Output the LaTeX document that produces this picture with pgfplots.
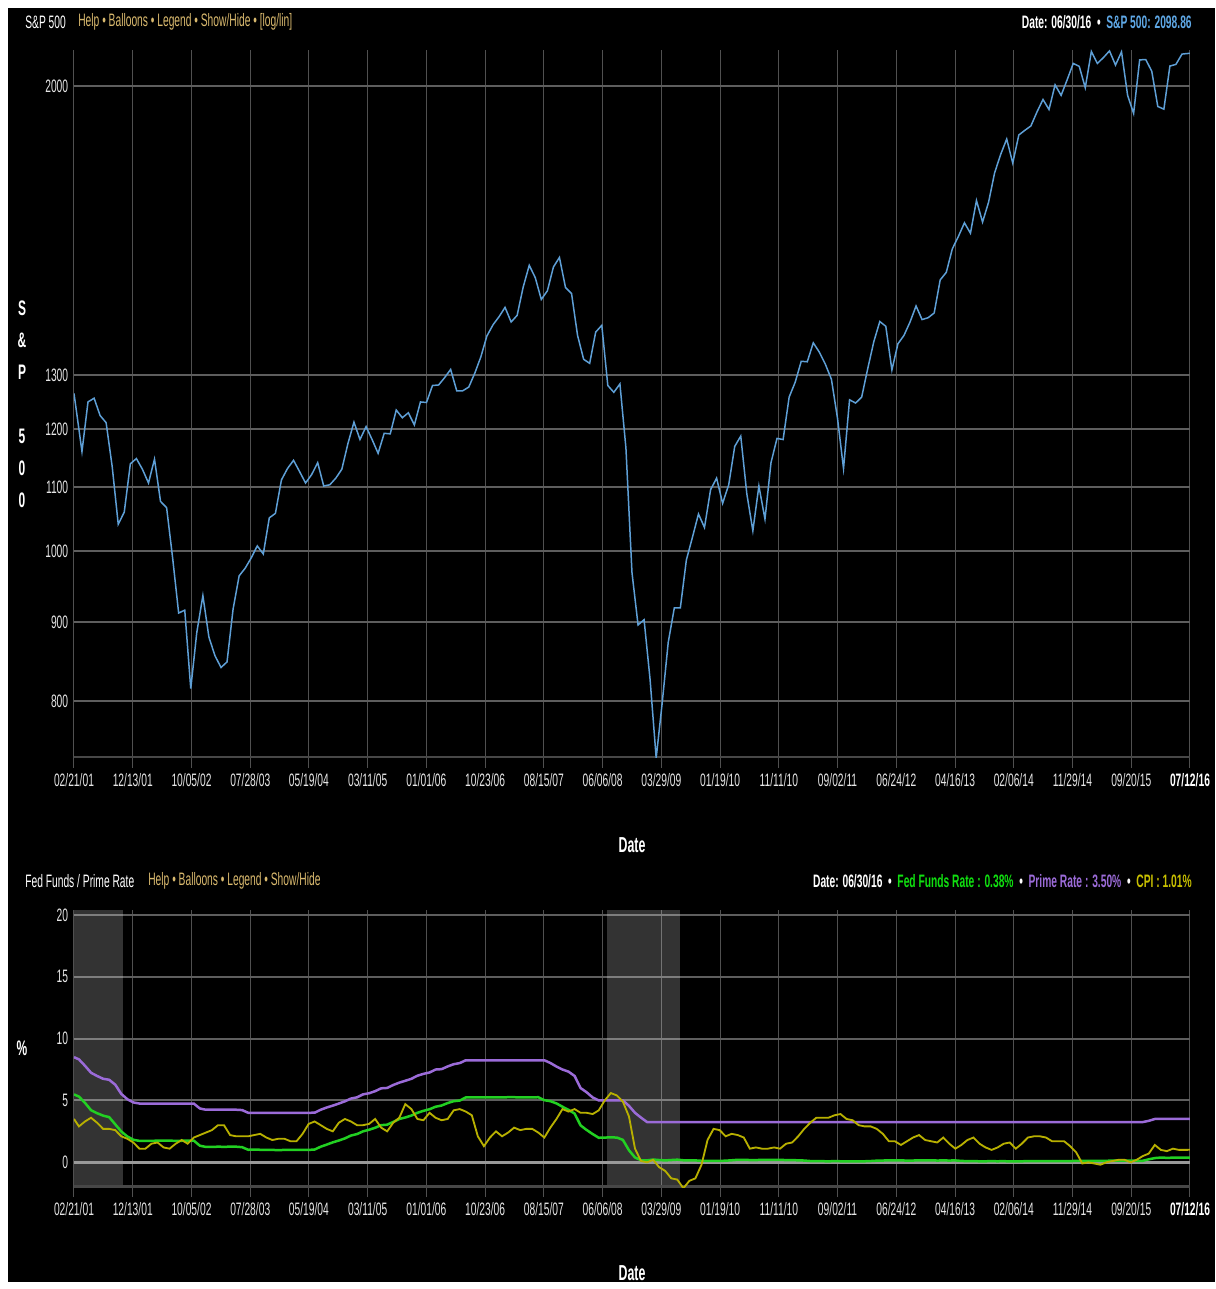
\documentclass[border=0pt]{standalone}
\usepackage{fontspec}
\setmainfont{Liberation Sans}[FakeStretch=0.57]
\usepackage{pgfplots}
\usepackage{pgfplotstable}
\pgfplotsset{compat=1.18}

\definecolor{hgrid}{HTML}{5E5E5E}
\definecolor{vgrid}{HTML}{505050}
\definecolor{basel}{HTML}{474747}
\definecolor{ticktxt}{HTML}{E6E6E6}
\definecolor{gold}{HTML}{D9B96E}
\definecolor{spblue}{HTML}{5E9FD6}
\definecolor{hdrblue}{HTML}{5FA8E6}
\definecolor{ffgreen}{HTML}{22D022}
\definecolor{hdrgreen}{HTML}{10E010}
\definecolor{prpurple}{HTML}{9B6BD8}
\definecolor{cpiyel}{HTML}{B8B000}
\definecolor{hdryel}{HTML}{C8C000}

\newcommand\ft{\fontsize{10.8}{13}\selectfont}

% S&P 500, month-end closes
\pgfplotstableread{
x sp
2001.140 1265
2001.250 1160
2001.333 1249
2001.417 1256
2001.500 1224
2001.583 1211
2001.667 1134
2001.750 1041
2001.833 1060
2001.917 1139
2002.000 1148
2002.083 1130
2002.167 1107
2002.250 1147
2002.333 1077
2002.417 1067
2002.500 990
2002.583 912
2002.667 916
2002.750 815
2002.833 886
2002.917 936
2003.000 880
2003.083 856
2003.167 841
2003.250 848
2003.333 917
2003.417 964
2003.500 975
2003.583 990
2003.667 1008
2003.750 996
2003.833 1051
2003.917 1058
2004.000 1112
2004.083 1131
2004.167 1145
2004.250 1126
2004.333 1107
2004.417 1121
2004.500 1141
2004.583 1102
2004.667 1104
2004.750 1115
2004.833 1130
2004.917 1174
2005.000 1212
2005.083 1181
2005.167 1204
2005.250 1181
2005.333 1157
2005.417 1192
2005.500 1191
2005.583 1234
2005.667 1220
2005.750 1229
2005.833 1207
2005.917 1249
2006.000 1248
2006.083 1280
2006.167 1281
2006.250 1295
2006.333 1311
2006.417 1270
2006.500 1270
2006.583 1277
2006.667 1304
2006.750 1336
2006.833 1378
2006.917 1401
2007.000 1418
2007.083 1438
2007.167 1407
2007.250 1421
2007.333 1482
2007.417 1531
2007.500 1503
2007.583 1455
2007.667 1474
2007.750 1527
2007.833 1549
2007.917 1481
2008.000 1468
2008.083 1379
2008.167 1331
2008.250 1323
2008.333 1386
2008.417 1400
2008.500 1280
2008.583 1267
2008.667 1283
2008.750 1166
2008.833 969
2008.917 896
2009.000 903
2009.083 826
2009.167 735
2009.250 798
2009.333 873
2009.417 919
2009.500 919
2009.583 987
2009.667 1021
2009.750 1057
2009.833 1036
2009.917 1096
2010.000 1115
2010.083 1074
2010.167 1104
2010.250 1169
2010.333 1187
2010.417 1089
2010.500 1031
2010.583 1102
2010.667 1049
2010.750 1141
2010.833 1183
2010.917 1181
2011.000 1258
2011.083 1286
2011.167 1327
2011.250 1326
2011.333 1364
2011.417 1345
2011.500 1321
2011.583 1292
2011.667 1219
2011.750 1131
2011.833 1253
2011.917 1247
2012.000 1258
2012.083 1312
2012.167 1366
2012.250 1408
2012.333 1398
2012.417 1310
2012.500 1362
2012.583 1379
2012.667 1407
2012.750 1441
2012.833 1412
2012.917 1416
2013.000 1426
2013.083 1498
2013.167 1515
2013.250 1569
2013.333 1598
2013.417 1631
2013.500 1606
2013.583 1686
2013.667 1633
2013.750 1682
2013.833 1757
2013.917 1806
2014.000 1848
2014.083 1783
2014.167 1859
2014.250 1872
2014.333 1884
2014.417 1924
2014.500 1960
2014.583 1931
2014.667 2003
2014.750 1972
2014.833 2018
2014.917 2068
2015.000 2059
2015.083 1995
2015.167 2105
2015.250 2068
2015.333 2086
2015.417 2107
2015.500 2063
2015.583 2104
2015.667 1972
2015.750 1920
2015.833 2079
2015.917 2080
2016.000 2044
2016.083 1940
2016.167 1932
2016.250 2060
2016.333 2065
2016.417 2097
2016.500 2099
2016.527 2099
}\spdata

% monthly averages: fed funds, prime rate, CPI yoy
\pgfplotstableread{
x ff pr cpi
2001.140 5.49 8.50 3.5
2001.208 5.31 8.32 2.9
2001.292 4.80 7.80 3.3
2001.375 4.21 7.24 3.6
2001.458 3.97 6.98 3.2
2001.542 3.77 6.75 2.7
2001.625 3.65 6.67 2.7
2001.708 3.07 6.28 2.6
2001.792 2.49 5.53 2.1
2001.875 2.09 5.10 1.9
2001.958 1.82 4.84 1.6
2002.042 1.73 4.75 1.1
2002.125 1.74 4.75 1.1
2002.208 1.73 4.75 1.5
2002.292 1.75 4.75 1.6
2002.375 1.75 4.75 1.2
2002.458 1.75 4.75 1.1
2002.542 1.73 4.75 1.5
2002.625 1.74 4.75 1.8
2002.708 1.75 4.75 1.5
2002.792 1.75 4.75 2.0
2002.875 1.34 4.35 2.2
2002.958 1.24 4.25 2.4
2003.042 1.24 4.25 2.6
2003.125 1.26 4.25 3.0
2003.208 1.25 4.25 3.0
2003.292 1.26 4.25 2.2
2003.375 1.26 4.25 2.1
2003.458 1.22 4.22 2.1
2003.542 1.01 4.00 2.1
2003.625 1.03 4.00 2.2
2003.708 1.01 4.00 2.3
2003.792 1.01 4.00 2.0
2003.875 1.00 4.00 1.8
2003.958 0.98 4.00 1.9
2004.042 1.00 4.00 1.9
2004.125 1.01 4.00 1.7
2004.208 1.00 4.00 1.7
2004.292 1.00 4.00 2.3
2004.375 1.00 4.00 3.1
2004.458 1.03 4.01 3.3
2004.542 1.26 4.25 3.0
2004.625 1.43 4.43 2.7
2004.708 1.61 4.58 2.5
2004.792 1.76 4.75 3.2
2004.875 1.93 4.93 3.5
2004.958 2.16 5.15 3.3
2005.042 2.28 5.25 3.0
2005.125 2.50 5.49 3.0
2005.208 2.63 5.58 3.1
2005.292 2.79 5.75 3.5
2005.375 3.00 5.98 2.8
2005.458 3.04 6.01 2.5
2005.542 3.26 6.25 3.2
2005.625 3.50 6.44 3.6
2005.708 3.62 6.59 4.7
2005.792 3.78 6.75 4.3
2005.875 4.00 7.00 3.5
2005.958 4.16 7.15 3.4
2006.042 4.29 7.26 4.0
2006.125 4.49 7.50 3.6
2006.208 4.59 7.53 3.4
2006.292 4.79 7.75 3.5
2006.375 4.94 7.93 4.2
2006.458 4.99 8.02 4.3
2006.542 5.24 8.25 4.1
2006.625 5.25 8.25 3.8
2006.708 5.25 8.25 2.1
2006.792 5.25 8.25 1.3
2006.875 5.25 8.25 2.0
2006.958 5.24 8.25 2.5
2007.042 5.25 8.25 2.1
2007.125 5.26 8.25 2.4
2007.208 5.26 8.25 2.8
2007.292 5.25 8.25 2.6
2007.375 5.25 8.25 2.7
2007.458 5.25 8.25 2.7
2007.542 5.26 8.25 2.4
2007.625 5.02 8.25 2.0
2007.708 4.94 8.03 2.8
2007.792 4.76 7.74 3.5
2007.875 4.49 7.50 4.3
2007.958 4.24 7.33 4.1
2008.042 3.94 6.98 4.3
2008.125 2.98 6.00 4.0
2008.208 2.61 5.66 4.0
2008.292 2.28 5.24 3.9
2008.375 1.98 5.00 4.2
2008.458 2.00 5.00 5.0
2008.542 2.01 5.00 5.6
2008.625 2.00 5.00 5.4
2008.708 1.81 5.00 4.9
2008.792 0.97 4.56 3.7
2008.875 0.39 4.00 1.1
2008.958 0.16 3.61 0.1
2009.042 0.15 3.25 0.0
2009.125 0.22 3.25 0.2
2009.208 0.18 3.25 -0.4
2009.292 0.15 3.25 -0.7
2009.375 0.18 3.25 -1.3
2009.458 0.21 3.25 -1.4
2009.542 0.16 3.25 -2.1
2009.625 0.16 3.25 -1.5
2009.708 0.15 3.25 -1.3
2009.792 0.12 3.25 -0.2
2009.875 0.12 3.25 1.8
2009.958 0.12 3.25 2.7
2010.042 0.11 3.25 2.6
2010.125 0.13 3.25 2.1
2010.208 0.16 3.25 2.3
2010.292 0.20 3.25 2.2
2010.375 0.20 3.25 2.0
2010.458 0.18 3.25 1.1
2010.542 0.18 3.25 1.2
2010.625 0.19 3.25 1.1
2010.708 0.19 3.25 1.1
2010.792 0.19 3.25 1.2
2010.875 0.19 3.25 1.1
2010.958 0.18 3.25 1.5
2011.042 0.17 3.25 1.6
2011.125 0.16 3.25 2.1
2011.208 0.14 3.25 2.7
2011.292 0.10 3.25 3.2
2011.375 0.09 3.25 3.6
2011.458 0.09 3.25 3.6
2011.542 0.07 3.25 3.6
2011.625 0.10 3.25 3.8
2011.708 0.08 3.25 3.9
2011.792 0.07 3.25 3.5
2011.875 0.08 3.25 3.4
2011.958 0.07 3.25 3.0
2012.042 0.08 3.25 2.9
2012.125 0.10 3.25 2.9
2012.208 0.13 3.25 2.7
2012.292 0.14 3.25 2.3
2012.375 0.16 3.25 1.7
2012.458 0.16 3.25 1.7
2012.542 0.16 3.25 1.4
2012.625 0.13 3.25 1.7
2012.708 0.14 3.25 2.0
2012.792 0.16 3.25 2.2
2012.875 0.16 3.25 1.8
2012.958 0.16 3.25 1.7
2013.042 0.14 3.25 1.6
2013.125 0.15 3.25 2.0
2013.208 0.14 3.25 1.5
2013.292 0.15 3.25 1.1
2013.375 0.11 3.25 1.4
2013.458 0.09 3.25 1.8
2013.542 0.09 3.25 2.0
2013.625 0.08 3.25 1.5
2013.708 0.08 3.25 1.2
2013.792 0.09 3.25 1.0
2013.875 0.08 3.25 1.2
2013.958 0.09 3.25 1.5
2014.042 0.07 3.25 1.6
2014.125 0.07 3.25 1.1
2014.208 0.08 3.25 1.5
2014.292 0.09 3.25 2.0
2014.375 0.09 3.25 2.1
2014.458 0.10 3.25 2.1
2014.542 0.09 3.25 2.0
2014.625 0.09 3.25 1.7
2014.708 0.09 3.25 1.7
2014.792 0.09 3.25 1.7
2014.875 0.09 3.25 1.3
2014.958 0.12 3.25 0.8
2015.042 0.11 3.25 -0.1
2015.125 0.11 3.25 0.0
2015.208 0.11 3.25 -0.1
2015.292 0.12 3.25 -0.2
2015.375 0.12 3.25 0.0
2015.458 0.13 3.25 0.1
2015.542 0.13 3.25 0.2
2015.625 0.14 3.25 0.2
2015.708 0.14 3.25 0.0
2015.792 0.12 3.25 0.2
2015.875 0.12 3.25 0.5
2015.958 0.24 3.35 0.7
2016.042 0.34 3.50 1.4
2016.125 0.38 3.50 1.0
2016.208 0.36 3.50 0.9
2016.292 0.37 3.50 1.1
2016.375 0.37 3.50 1.0
2016.458 0.38 3.50 1.0
2016.527 0.38 3.50 1.01
}\ratedata

\pgfplotsset{
  chart/.style={
    scale only axis, width=669.6pt,
    xmin=2001.14, xmax=2016.527,
    xtick={2001.140,2001.950,2002.760,2003.570,2004.379,2005.189,2005.999,2006.809,2007.619,2008.429,2009.238,2010.048,2010.858,2011.668,2012.478,2013.288,2014.097,2014.907,2015.717,2016.527},
    xticklabels={02/21/01,12/13/01,10/05/02,07/28/03,05/19/04,03/11/05,01/01/06,10/23/06,08/15/07,06/06/08,03/29/09,01/19/10,11/11/10,09/02/11,06/24/12,04/16/13,02/06/14,11/29/14,09/20/15,{\bfseries\color{white}07/12/16}},
    axis line style={draw=none},
    tick align=outside, major tick length=6pt,
    xtick pos=left, ytick pos=left,
    xtick style={draw=vgrid, line width=0.6pt},
    ytick style={draw=none},
    grid=major,
    x grid style={vgrid, line width=0.6pt},
    y grid style={hgrid, line width=1.2pt},
    tick label style={font=\ft, text=ticktxt},
    yticklabel style={xshift=6pt},
  },
}

\begin{document}
\begin{tikzpicture}
\begin{scope}[x=0.6pt, y=-0.6pt]
  \fill[white] (0,0) rectangle (1215,1289);
  \fill[black] (8,8) rectangle (1215,1282);
  % headers
  \node[anchor=west, inner sep=0, font=\ft, text=white] at (25,22) {S\&P 500};
  \node[anchor=west, inner sep=0, font=\ft, text=gold] at (78,22) {Help • Balloons • Legend • Show/Hide • [log/lin]};
  \node[anchor=east, inner sep=0, font=\ft\bfseries] at (1192,22)
    {\color{white}Date: 06/30/16 \ • \ \color{hdrblue}S\&P 500: 2098.86};
  \node[anchor=west, inner sep=0, font=\ft, text=white] at (25,881) {Fed Funds / Prime Rate};
  \node[anchor=west, inner sep=0, font=\ft, text=gold] at (148,881) {Help • Balloons • Legend • Show/Hide};
  \node[anchor=east, inner sep=0, font=\ft\bfseries] at (1192,881)
    {\color{white}Date: 06/30/16 \ • \ \color{hdrgreen}Fed Funds Rate : 0.38\% \color{white}\ • \ \color{prpurple}Prime Rate : 3.50\% \color{white}\ • \ \color{hdryel}CPI : 1.01\%};
  % axis titles
  \node[align=center, inner sep=0, text=white, font=\fontsize{12.6}{19.2}\selectfont\bfseries] at (22,404)
    {S\\\&\\P\\\mbox{}\\5\\0\\0};
  \node[inner sep=0, text=white, font=\fontsize{12.6}{15}\selectfont\bfseries] at (22,1048) {\%};
  \node[inner sep=0, text=white, font=\fontsize{13}{15}\selectfont\bfseries] at (632,845) {Date};
  \node[inner sep=0, text=white, font=\fontsize{13}{15}\selectfont\bfseries] at (632,1273) {Date};
\end{scope}

% S&P 500 panel
\begin{axis}[chart,
  at={(44.4pt,-454.8pt)}, anchor=south west,
  height=424.8pt,
  ymode=log, ymin=735, ymax=2110,
  ytick={800,900,1000,1100,1200,1300,2000},
  yticklabels={800,900,1000,1100,1200,1300,2000},
]
  \draw[basel, line width=2.4pt] (rel axis cs:0,0) -- (rel axis cs:1,0);
  \addplot[spblue, line width=0.9pt] table[x=x, y=sp] {\spdata};
\end{axis}

% rates panel
\begin{axis}[chart,
  at={(44.4pt,-712.2pt)}, anchor=south west,
  height=166.2pt,
  ymin=-2, ymax=20.4,
  ytick={0,5,10,15,20},
  yticklabels={0,5,10,15,20},
]
  \addplot[draw=none, fill=white, fill opacity=0.2] coordinates {(2001.14,-2) (2001.14,20.4) (2001.82,20.4) (2001.82,-2)} -- cycle;
  \addplot[draw=none, fill=white, fill opacity=0.2] coordinates {(2008.49,-2) (2008.49,20.4) (2009.50,20.4) (2009.50,-2)} -- cycle;
  \draw[basel, line width=2.4pt] (rel axis cs:0,0) -- (rel axis cs:1,0);
  \draw[gray!80, line width=1.8pt] (axis cs:2001.14,0) -- (axis cs:2016.527,0);
  \addplot[prpurple, line width=1.5pt] table[x=x, y=pr] {\ratedata};
  \addplot[ffgreen, line width=1.5pt] table[x=x, y=ff] {\ratedata};
  \addplot[cpiyel, line width=1.1pt] table[x=x, y=cpi] {\ratedata};
\end{axis}
\end{tikzpicture}
\end{document}
